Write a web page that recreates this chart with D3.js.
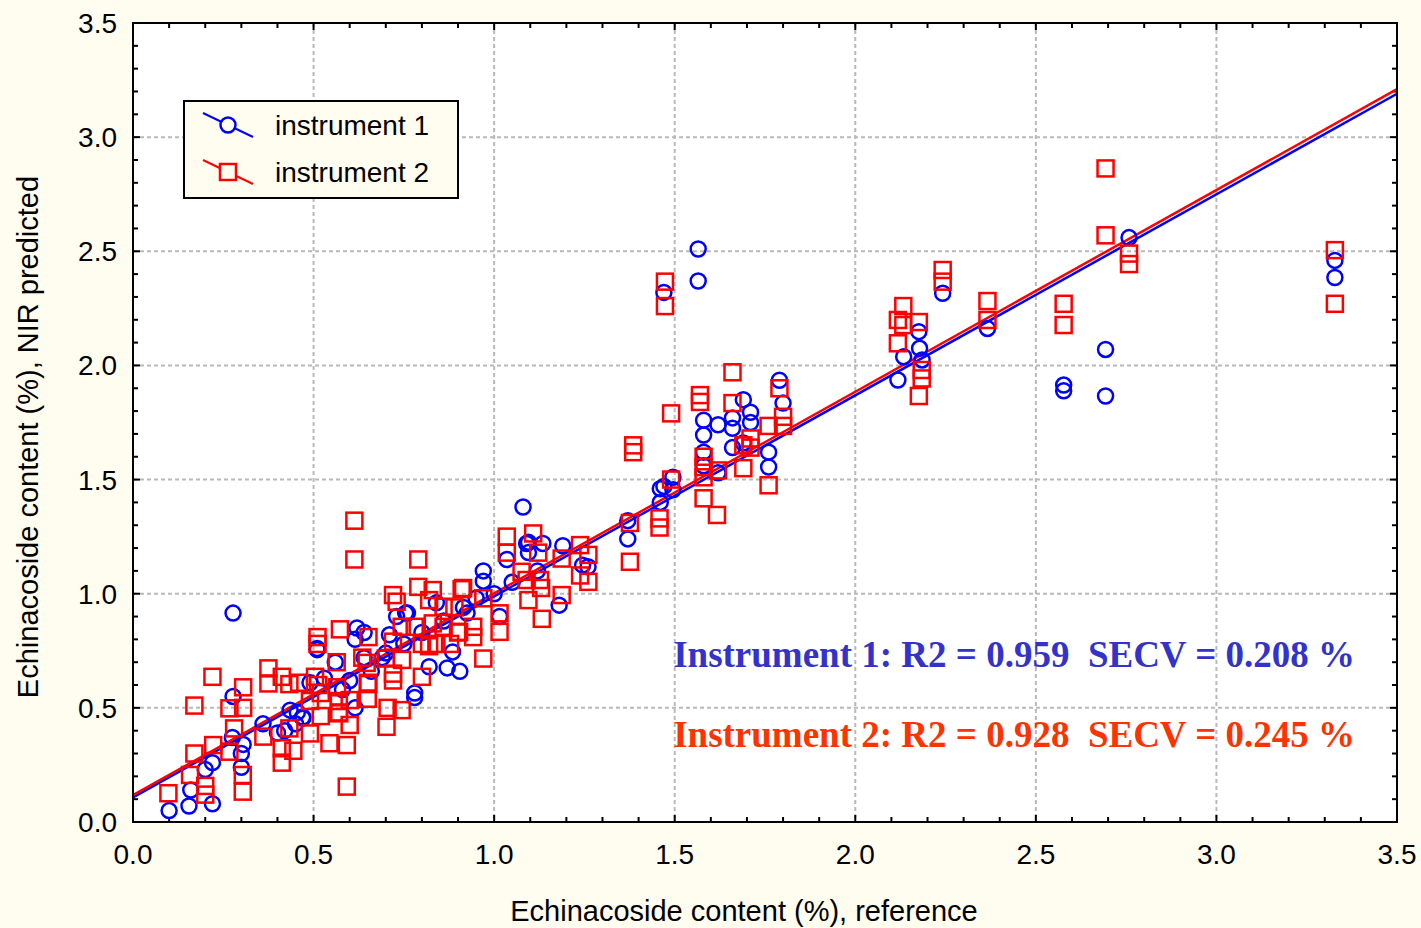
<!DOCTYPE html>
<html>
<head>
<meta charset="utf-8">
<script src="https://cdn.jsdelivr.net/npm/d3@7"></script>
<style>
body { margin: 0; background: #fffdf0; }
.grid line { stroke: #b9b9b9; stroke-width: 2; stroke-dasharray: 4,3; }
.ticklbl { font-family: "Liberation Sans", Arial, sans-serif; font-size: 28px; fill: #000; }
.title { font-family: "Liberation Sans", Arial, sans-serif; font-size: 29px; fill: #000; }
.stat { font-family: "Liberation Serif", "Times New Roman", serif; font-size: 37px; font-weight: bold; white-space: pre; }
</style>
</head>
<body>
<div id="chart"></div>
<script>
// instrument 1 (blue circles): reference value / NIR predicted
var inst1Ref = [0.10,0.155,0.22,0.16,0.20,0.22,0.30,0.30,0.305,0.277,0.277,0.275,0.36,0.40,0.435,0.47,0.49,0.51,
  0.62,0.64,0.615,0.73,0.71,0.51,0.885,0.87,0.905,0.78,0.78,0.82,0.455,0.47,0.615,0.69,0.755,0.84,0.925,
  0.56,0.60,0.66,0.70,0.58,0.75,0.80,0.86,0.64,0.53,0.45,0.42,
  1.08,0.97,0.97,1.09,1.035,0.915,1.015,0.76,1.095,1.135,1.19,1.095,1.245,1.26,1.18,1.37,1.37,1.0,1.05,1.12,0.95,
  1.46,1.46,1.495,1.495,1.47,1.79,1.80,1.69,1.71,1.66,1.66,1.62,1.58,1.58,1.71,1.66,1.76,1.76,1.62,1.58,1.58,1.69,
  1.565,1.565,1.47,2.758,3.328,3.328,2.693,2.577,2.577,2.693,2.242,2.366,2.176,2.178,2.134,2.185,2.118];
var inst1Pred = [0.05,0.07,0.08,0.14,0.23,0.26,0.24,0.30,0.34,0.915,0.55,0.37,0.43,0.39,0.49,0.46,0.61,0.76,
  0.85,0.83,0.80,0.90,0.82,0.755,0.745,0.675,0.66,0.565,0.545,0.68,0.48,0.455,0.50,0.72,0.915,0.96,0.915,
  0.70,0.62,0.66,0.74,0.58,0.78,0.83,0.88,0.72,0.63,0.43,0.40,
  1.38,1.10,1.055,1.22,1.15,0.94,0.90,0.915,1.225,1.22,1.21,1.18,1.125,1.118,0.95,1.32,1.24,1.0,1.05,1.1,0.98,
  1.46,1.40,1.51,1.455,1.47,1.935,1.835,1.85,1.795,1.77,1.725,1.74,1.76,1.695,1.75,1.64,1.62,1.555,1.53,1.62,1.56,1.66,
  2.51,2.37,2.32,2.56,2.46,2.385,2.07,1.914,1.889,1.866,2.316,2.162,2.148,2.075,2.038,2.024,1.936];

// instrument 2 (red squares)
var inst2Ref = [0.098,0.158,0.17,0.17,0.20,0.20,0.22,0.222,0.267,0.267,0.28,0.304,0.304,0.305,0.305,0.361,0.375,0.375,
  0.412,0.433,0.412,0.412,0.433,0.444,0.49,0.52,0.544,0.592,0.60,0.571,0.513,0.504,0.573,0.511,0.511,0.652,0.564,
  0.652,0.647,0.60,0.72,0.72,0.744,0.702,0.72,0.73,0.79,0.83,0.82,0.744,0.78,0.80,0.80,0.70,0.72,0.86,0.86,0.84,
  0.82,0.592,0.613,0.613,0.79,
  0.46,0.52,0.565,0.65,0.57,0.65,0.49,0.57,0.705,0.635,0.745,0.83,0.90,0.89,0.91,
  0.914,0.97,1.015,1.015,0.97,0.942,0.942,0.903,0.878,
  1.035,1.035,1.108,1.122,1.076,1.09,1.127,1.095,1.132,1.187,1.187,1.238,1.261,1.238,1.261,1.13,
  1.376,1.376,1.458,1.458,1.49,1.58,1.617,1.66,1.79,1.57,1.57,1.49,1.385,1.385,1.66,1.76,1.80,1.80,1.69,1.71,
  1.71,1.69,1.58,1.58,1.58,1.62,1.76,
  1.473,1.473,2.693,2.693,2.758,2.758,3.328,3.328,2.577,2.577,2.242,2.242,2.366,2.366,2.133,2.118,2.133,2.176,
  2.118,2.184,2.184,2.176];
var inst2Pred = [0.126,0.206,0.30,0.51,0.158,0.12,0.636,0.337,0.308,0.498,0.41,0.206,0.133,0.59,0.50,0.374,0.673,0.607,
  0.636,0.604,0.323,0.26,0.41,0.312,0.388,0.464,0.345,0.337,0.425,0.476,0.60,0.636,0.844,0.81,0.78,0.81,0.70,
  0.604,0.697,0.534,0.79,0.62,0.49,0.417,0.994,0.965,1.03,1.016,0.972,0.855,0.855,0.78,0.636,0.716,0.65,0.943,0.855,0.78,
  0.77,0.155,1.32,1.15,1.15,
  0.61,0.565,0.59,0.61,0.53,0.54,0.53,0.48,0.50,0.72,0.71,0.87,0.83,0.94,1.02,
  1.025,0.98,0.914,0.833,0.716,0.855,0.81,0.833,0.78,
  1.25,1.18,1.264,1.18,1.096,1.06,1.06,0.972,0.89,1.154,0.994,1.213,1.17,1.08,1.052,1.025,
  1.31,1.14,1.33,1.29,1.50,1.418,1.345,1.97,1.90,1.87,1.84,1.79,1.65,1.62,1.835,1.735,1.775,1.735,1.65,1.68,
  1.64,1.55,1.60,1.555,1.51,1.54,1.475,
  2.367,2.26,2.863,2.57,2.49,2.444,2.505,2.27,2.27,2.177,2.418,2.367,2.282,2.199,2.26,2.199,2.177,2.19,
  2.097,1.98,1.943,1.866];

// fitted lines (end points at x = 0 and x = 3.5)
var fitX = [0, 3.5];
var fit1Y = [0.108, 3.19];
var fit2Y = [0.118, 3.21];

var majorTicks = [0, 0.5, 1.0, 1.5, 2.0, 2.5, 3.0, 3.5];
var legendLabels = ["instrument 1", "instrument 2"];
var statLabels = ["Instrument 1: R2 = 0.959  SECV = 0.208 %", "Instrument 2: R2 = 0.928  SECV = 0.245 %"];

var W = 1421, H = 928;
var margin = {left: 133, top: 23, right: 24, bottom: 106};
var width = W - margin.left - margin.right;
var height = H - margin.top - margin.bottom;

var blue = "#0000ff", red = "#ff0000";

var svg = d3.select("#chart").append("svg")
	.attr("width", W).attr("height", H);

svg.append("rect").attr("width", W).attr("height", H).attr("fill", "#fffdf0");

var x = d3.scaleLinear().domain([0, 3.5]).range([0, width]);
var y = d3.scaleLinear().domain([0, 3.5]).range([height, 0]);

var g = svg.append("g").attr("transform", "translate(" + margin.left + "," + margin.top + ")");

g.append("rect").attr("width", width).attr("height", height).attr("fill", "#fff");

// grid
var grid = g.append("g").attr("class", "grid");
grid.selectAll(".gx").data(majorTicks.slice(1, -1)).enter().append("line")
	.attr("x1", function(d){ return x(d); }).attr("x2", function(d){ return x(d); })
	.attr("y1", 0).attr("y2", height);
grid.selectAll(".gy").data(majorTicks.slice(1, -1)).enter().append("line")
	.attr("y1", function(d){ return y(d); }).attr("y2", function(d){ return y(d); })
	.attr("x1", 0).attr("x2", width);

// ticks on all four sides, pointing inward
var minor = d3.range(0, 36).map(function(i){ return i / 10; });
function tickLen(d){ return Math.abs(d * 2 - Math.round(d * 2)) < 1e-6 ? 7 : 5; }
var ticks = g.append("g").attr("stroke", "#000").attr("stroke-width", 2);
minor.forEach(function(d){
	var L = tickLen(d);
	ticks.append("line").attr("x1", x(d)).attr("x2", x(d)).attr("y1", height).attr("y2", height - L);
	ticks.append("line").attr("x1", x(d)).attr("x2", x(d)).attr("y1", 0).attr("y2", L);
	ticks.append("line").attr("y1", y(d)).attr("y2", y(d)).attr("x1", 0).attr("x2", L);
	ticks.append("line").attr("y1", y(d)).attr("y2", y(d)).attr("x1", width).attr("x2", width - L);
});

// tick labels
g.selectAll(".xl").data(majorTicks).enter().append("text")
	.attr("class", "ticklbl")
	.attr("x", function(d){ return x(d); })
	.attr("y", height + 42)
	.attr("text-anchor", "middle")
	.text(d3.format(".1f"));
g.selectAll(".yl").data(majorTicks).enter().append("text")
	.attr("class", "ticklbl")
	.attr("x", -16)
	.attr("y", function(d){ return y(d) + 10; })
	.attr("text-anchor", "end")
	.text(d3.format(".1f"));

// fit lines
var line = d3.line().x(function(d){ return x(d[0]); }).y(function(d){ return y(d[1]); });
g.append("path").attr("d", line(d3.zip(fitX, fit1Y))).attr("stroke", blue).attr("stroke-width", 2.5).attr("fill", "none");
g.append("path").attr("d", line(d3.zip(fitX, fit2Y))).attr("stroke", red).attr("stroke-width", 2.5).attr("fill", "none");

// points
var pts = g.append("g");
pts.selectAll(".c").data(d3.zip(inst1Ref, inst1Pred)).enter().append("circle")
	.attr("cx", function(d){ return x(d[0]); })
	.attr("cy", function(d){ return y(d[1]); })
	.attr("r", 7.5)
	.attr("fill", "none").attr("stroke", blue).attr("stroke-width", 2.5);
pts.selectAll(".s").data(d3.zip(inst2Ref, inst2Pred)).enter().append("rect")
	.attr("x", function(d){ return x(d[0]) - 8; })
	.attr("y", function(d){ return y(d[1]) - 8; })
	.attr("width", 16).attr("height", 16)
	.attr("fill", "none").attr("stroke", red).attr("stroke-width", 2.5);

// frame
g.append("rect").attr("width", width).attr("height", height)
	.attr("fill", "none").attr("stroke", "#000").attr("stroke-width", 2);

// statistics
g.selectAll(".stat").data(statLabels).enter().append("text")
	.attr("class", "stat")
	.attr("xml:space", "preserve")
	.attr("x", 1355 - margin.left)
	.attr("y", function(d, i){ return 644 + i * 80; })
	.attr("text-anchor", "end")
	.attr("fill", function(d, i){ return i == 0 ? "#3333cc" : "#ff3300"; })
	.text(function(d){ return d; });

// legend
var leg = svg.append("g").attr("transform", "translate(184,101)");
leg.append("rect").attr("width", 274).attr("height", 97)
	.attr("fill", "#fffdf0").attr("stroke", "#000").attr("stroke-width", 2);
legendLabels.forEach(function(lab, i){
	var cy = 24 + i * 47;
	var col = i == 0 ? blue : red;
	leg.append("line").attr("x1", 19).attr("y1", cy - 12).attr("x2", 69).attr("y2", cy + 12)
		.attr("stroke", col).attr("stroke-width", 2);
	if(i == 0){
		leg.append("circle").attr("cx", 44).attr("cy", cy).attr("r", 7.5)
			.attr("fill", "#fffdf0").attr("stroke", col).attr("stroke-width", 2.5);
	}else{
		leg.append("rect").attr("x", 36).attr("y", cy - 8).attr("width", 16).attr("height", 16)
			.attr("fill", "#fffdf0").attr("stroke", col).attr("stroke-width", 2.5);
	}
	leg.append("text").attr("class", "ticklbl").attr("x", 91).attr("y", cy + 10).text(lab);
});

// axis titles
svg.append("text").attr("class", "title")
	.attr("x", 744).attr("y", 921)
	.attr("text-anchor", "middle")
	.text("Echinacoside content (%), reference");
svg.append("text").attr("class", "title")
	.attr("transform", "translate(38,437) rotate(-90)")
	.attr("text-anchor", "middle")
	.text("Echinacoside content (%), NIR predicted");
</script>
</body>
</html>
